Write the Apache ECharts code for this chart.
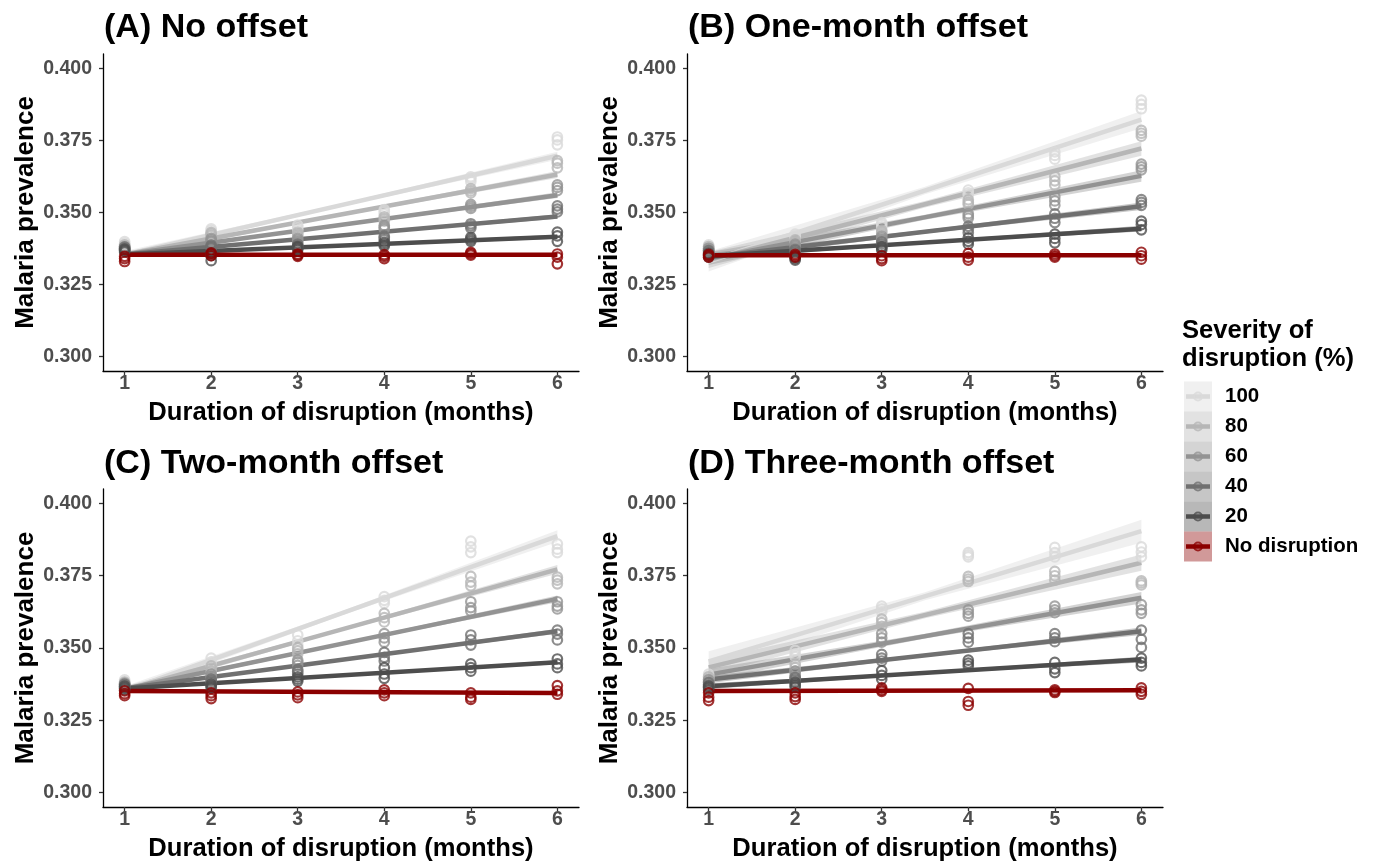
<!DOCTYPE html>
<html><head><meta charset="utf-8">
<script src="https://cdn.jsdelivr.net/npm/echarts@6/dist/echarts.min.js"></script>
<style>html,body{margin:0;padding:0;background:#fff}#chart{width:1374px;height:863px}</style>
</head><body><div id="chart"></div>
<script>
// ---------- data ----------
const durations = [1, 2, 3, 4, 5, 6];
const xTicks = [1, 2, 3, 4, 5, 6];
const yTicks = [0.300, 0.325, 0.350, 0.375, 0.400];
const severityLabels = ['100', '80', '60', '40', '20', 'No disruption'];
const severityColors = ['#d9d9d9', '#b6b6b6', '#939393', '#707070', '#4d4d4d', '#8b0000'];
const panelTitles = ['(A) No offset', '(B) One-month offset', '(C) Two-month offset', '(D) Three-month offset'];
const xAxisTitle = 'Duration of disruption (months)';
const yAxisTitle = 'Malaria prevalence';
const legendTitle = ['Severity of', 'disruption (%)'];
const bandX = [1, 3.5, 6];

// replicate values per severity (rows) and per duration (columns)
const pointsA = [
  [[0.3386,0.3393,0.3399],[0.3430,0.3437,0.3443],[0.3440,0.3448,0.3456],[0.3494,0.3503,0.3510],[0.3608,0.3618,0.3624],[0.3735,0.3752,0.3762]],
  [[0.3378,0.3383,0.3388],[0.3420,0.3425,0.3430],[0.3419,0.3426,0.3432],[0.3470,0.3478,0.3485],[0.3568,0.3575,0.3583],[0.3655,0.3671,0.3680]],
  [[0.3371,0.3376,0.3381],[0.3400,0.3405,0.3410],[0.3398,0.3404,0.3410],[0.3442,0.3449,0.3455],[0.3514,0.3521,0.3528],[0.3576,0.3587,0.3596]],
  [[0.3370,0.3375,0.3380],[0.3377,0.3382,0.3387],[0.3380,0.3385,0.3390],[0.3405,0.3412,0.3418],[0.3446,0.3454,0.3461],[0.3502,0.3512,0.3523]],
  [[0.3363,0.3368,0.3373],[0.3333,0.3350,0.3358],[0.3372,0.3377,0.3382],[0.3384,0.3390,0.3396],[0.3400,0.3407,0.3414],[0.3400,0.3419,0.3432]],
  [[0.3330,0.3340,0.3348],[0.3350,0.3356,0.3360],[0.3348,0.3352,0.3356],[0.3340,0.3348,0.3354],[0.3352,0.3357,0.3362],[0.3322,0.3345,0.3356]]
];
const pointsB = [
  [[0.3375,0.3382,0.3388],[0.3412,0.3418,0.3425],[0.3450,0.3458,0.3465],[0.3560,0.3568,0.3578],[0.3685,0.3698,0.3710],[0.3860,0.3875,0.3890]],
  [[0.3370,0.3376,0.3382],[0.3395,0.3400,0.3405],[0.3425,0.3432,0.3438],[0.3528,0.3535,0.3544],[0.3595,0.3610,0.3625],[0.3765,0.3775,0.3785]],
  [[0.3365,0.3370,0.3376],[0.3380,0.3386,0.3390],[0.3405,0.3412,0.3418],[0.3480,0.3488,0.3496],[0.3525,0.3540,0.3555],[0.3648,0.3658,0.3668]],
  [[0.3355,0.3362,0.3368],[0.3362,0.3368,0.3372],[0.3380,0.3390,0.3398],[0.3430,0.3442,0.3452],[0.3465,0.3480,0.3495],[0.3525,0.3535,0.3545]],
  [[0.3345,0.3352,0.3358],[0.3335,0.3340,0.3345],[0.3370,0.3376,0.3382],[0.3390,0.3400,0.3412],[0.3395,0.3410,0.3425],[0.3440,0.3458,0.3470]],
  [[0.3345,0.3350,0.3355],[0.3345,0.3350,0.3355],[0.3333,0.3340,0.3350],[0.3335,0.3345,0.3358],[0.3345,0.3350,0.3356],[0.3338,0.3350,0.3362]]
];
const pointsC = [
  [[0.3375,0.3382,0.3390],[0.3440,0.3452,0.3465],[0.3510,0.3525,0.3545],[0.3655,0.3665,0.3678],[0.3830,0.3850,0.3870],[0.3830,0.3842,0.3860]],
  [[0.3370,0.3376,0.3382],[0.3420,0.3430,0.3438],[0.3480,0.3490,0.3500],[0.3590,0.3605,0.3620],[0.3715,0.3728,0.3748],[0.3722,0.3735,0.3745]],
  [[0.3365,0.3372,0.3378],[0.3395,0.3402,0.3410],[0.3440,0.3450,0.3458],[0.3520,0.3535,0.3550],[0.3628,0.3640,0.3660],[0.3635,0.3645,0.3660]],
  [[0.3360,0.3367,0.3374],[0.3380,0.3386,0.3392],[0.3410,0.3418,0.3425],[0.3455,0.3468,0.3485],[0.3510,0.3528,0.3545],[0.3528,0.3548,0.3562]],
  [[0.3355,0.3362,0.3368],[0.3362,0.3368,0.3374],[0.3385,0.3392,0.3400],[0.3395,0.3410,0.3432],[0.3420,0.3432,0.3445],[0.3432,0.3445,0.3462]],
  [[0.3335,0.3342,0.3352],[0.3325,0.3335,0.3345],[0.3328,0.3338,0.3348],[0.3335,0.3345,0.3355],[0.3322,0.3330,0.3345],[0.3340,0.3352,0.3370]]
];
const pointsD = [
  [[0.3395,0.3403,0.3410],[0.3470,0.3480,0.3492],[0.3625,0.3635,0.3645],[0.3815,0.3822,0.3830],[0.3815,0.3830,0.3848],[0.3815,0.3832,0.3850]],
  [[0.3385,0.3392,0.3400],[0.3420,0.3432,0.3445],[0.3575,0.3588,0.3600],[0.3730,0.3738,0.3748],[0.3735,0.3750,0.3765],[0.3718,0.3725,0.3732]],
  [[0.3375,0.3382,0.3390],[0.3400,0.3410,0.3420],[0.3520,0.3535,0.3550],[0.3610,0.3620,0.3632],[0.3622,0.3632,0.3645],[0.3620,0.3632,0.3650]],
  [[0.3365,0.3372,0.3380],[0.3385,0.3392,0.3398],[0.3455,0.3465,0.3478],[0.3520,0.3535,0.3550],[0.3522,0.3535,0.3550],[0.3502,0.3530,0.3562]],
  [[0.3355,0.3362,0.3368],[0.3365,0.3372,0.3380],[0.3392,0.3405,0.3422],[0.3438,0.3448,0.3458],[0.3415,0.3428,0.3450],[0.3438,0.3450,0.3465]],
  [[0.3318,0.3330,0.3345],[0.3322,0.3332,0.3345],[0.3350,0.3355,0.3362],[0.3302,0.3315,0.3360],[0.3346,0.3350,0.3355],[0.3340,0.3350,0.3362]]
];

// fitted linear trend (value at duration 1 and at duration 6) per severity
const fitStartA = [0.3354, 0.3354, 0.3354, 0.3354, 0.3354, 0.3353];
const fitEndA   = [0.3697, 0.3632, 0.3560, 0.3486, 0.3416, 0.3353];
const fitStartB = [0.3330, 0.3335, 0.3340, 0.3345, 0.3348, 0.3352];
const fitEndB   = [0.3822, 0.3722, 0.3627, 0.3522, 0.3444, 0.3352];
const fitStartC = [0.3352, 0.3355, 0.3358, 0.3360, 0.3360, 0.3351];
const fitEndC   = [0.3887, 0.3772, 0.3670, 0.3558, 0.3451, 0.3344];
const fitStartD = [0.3454, 0.3433, 0.3408, 0.3391, 0.3368, 0.3351];
const fitEndD   = [0.3904, 0.3795, 0.3674, 0.3558, 0.3460, 0.3354];

// confidence band half-width at bandX positions per severity
const ciHalfA = [[0.0012,0.0005,0.0014],[0.0010,0.0004,0.0012],[0.0008,0.0004,0.0010],[0.0007,0.0003,0.0008],[0.0006,0.0003,0.0007],[0.0005,0.0002,0.0005]];
const ciHalfB = [[0.0035,0.0013,0.0030],[0.0028,0.0011,0.0025],[0.0022,0.0009,0.0020],[0.0014,0.0006,0.0013],[0.0010,0.0004,0.0010],[0.0006,0.0003,0.0006]];
const ciHalfC = [[0.0016,0.0007,0.0020],[0.0013,0.0005,0.0015],[0.0010,0.0004,0.0012],[0.0008,0.0003,0.0009],[0.0006,0.0003,0.0007],[0.0005,0.0002,0.0005]];
const ciHalfD = [[0.0035,0.0014,0.0040],[0.0026,0.0011,0.0028],[0.0020,0.0008,0.0020],[0.0013,0.0005,0.0013],[0.0010,0.0004,0.0010],[0.0006,0.0003,0.0006]];

// ---------- build ----------
const FONT = '"Liberation Sans", Arial, Helvetica, sans-serif';
const panels = [
  {points: pointsA, s: fitStartA, e: fitEndA, ci: ciHalfA},
  {points: pointsB, s: fitStartB, e: fitEndB, ci: ciHalfB},
  {points: pointsC, s: fitStartC, e: fitEndC, ci: ciHalfC},
  {points: pointsD, s: fitStartD, e: fitEndD, ci: ciHalfD}
];
const gridPos = [
  {left: 103, top: 54, width: 476, height: 317},
  {left: 687, top: 54, width: 476, height: 317},
  {left: 103, top: 489, width: 476, height: 318},
  {left: 687, top: 489, width: 476, height: 318}
];
function rgba(hex, a) {
  const n = parseInt(hex.slice(1), 16);
  return 'rgba(' + ((n >> 16) & 255) + ',' + ((n >> 8) & 255) + ',' + (n & 255) + ',' + a + ')';
}
const grids = [], xAxes = [], yAxes = [], series = [];
panels.forEach((pn, p) => {
  grids.push(Object.assign({containLabel: false}, gridPos[p]));
  xAxes.push({
    gridIndex: p, type: 'value', min: 0.75, max: 6.25,
    name: xAxisTitle, nameLocation: 'middle', nameGap: 29,
    nameTextStyle: {fontFamily: FONT, fontWeight: 'bold', fontSize: 25.6, color: '#000'},
    axisLine: {show: true, onZero: false, lineStyle: {color: '#000', width: 1.3}},
    axisTick: {show: true, customValues: xTicks, length: 4, lineStyle: {color: '#333', width: 1.3}},
    axisLabel: {customValues: xTicks, margin: 3, color: '#4d4d4d', fontWeight: 'bold', fontSize: 19.5, fontFamily: FONT},
    splitLine: {show: false}
  });
  yAxes.push({
    gridIndex: p, type: 'value', min: 0.295, max: 0.405,
    name: yAxisTitle, nameLocation: 'middle', nameGap: 60,
    nameTextStyle: {fontFamily: FONT, fontWeight: 'bold', fontSize: 26, color: '#000'},
    axisLine: {show: true, onZero: false, lineStyle: {color: '#000', width: 1.3}},
    axisTick: {show: true, customValues: yTicks, length: 4, lineStyle: {color: '#333', width: 1.3}},
    axisLabel: {customValues: yTicks, margin: 11, formatter: v => v.toFixed(3), color: '#4d4d4d', fontWeight: 'bold', fontSize: 19.5, fontFamily: FONT},
    splitLine: {show: false}
  });
  // bands
  severityLabels.forEach((lab, g) => {
    const col = severityColors[g];
    const mid = (pn.s[g] + pn.e[g]) / 2;
    const centre = [pn.s[g], mid, pn.e[g]];
    const data = bandX.map((x, i) => [x, centre[i] - pn.ci[g][i], centre[i] + pn.ci[g][i]]);
    series.push({
      type: 'custom', xAxisIndex: p, yAxisIndex: p, silent: true, z: 2,
      data: data, encode: {x: 0, y: [1, 2]},
      renderItem: function (params, api) {
        if (params.dataIndex !== 0) return null;
        const top = data.map(d => api.coord([d[0], d[2]]));
        const bot = data.map(d => api.coord([d[0], d[1]])).reverse();
        return {type: 'polygon', shape: {points: top.concat(bot)}, style: {fill: rgba(col, 0.4)}};
      }
    });
  });
  // fitted lines
  severityLabels.forEach((lab, g) => {
    series.push({
      type: 'line', xAxisIndex: p, yAxisIndex: p, silent: true, z: 3,
      data: [[durations[0], pn.s[g]], [durations[durations.length - 1], pn.e[g]]],
      symbol: 'none', lineStyle: {color: severityColors[g], width: 4.5}
    });
  });
  // points
  severityLabels.forEach((lab, g) => {
    const d = [];
    durations.forEach((x, i) => pn.points[g][i].forEach(v => d.push([x, v])));
    series.push({
      type: 'scatter', xAxisIndex: p, yAxisIndex: p, silent: true, z: 4,
      data: d, symbol: 'circle', symbolSize: 9.5,
      itemStyle: {color: 'rgba(0,0,0,0)', borderColor: severityColors[g], borderWidth: 2.2, opacity: 0.8}
    });
  });
});

// titles and legend (graphic)
const graphics = [];
const titlePos = [[104, 28], [688, 28], [104, 464], [688, 464]];
panelTitles.forEach((t, i) => {
  graphics.push({type: 'text', x: titlePos[i][0], y: titlePos[i][1],
    style: {text: t, font: 'bold 34px ' + FONT, fill: '#000', verticalAlign: 'middle', align: 'left'}});
});
legendTitle.forEach((t, i) => {
  graphics.push({type: 'text', x: 1182, y: 331 + i * 28,
    style: {text: t, font: 'bold 25.6px ' + FONT, fill: '#000', verticalAlign: 'middle', align: 'left'}});
});
severityLabels.forEach((lab, g) => {
  const top = 381.5 + g * 30, cy = top + 15, col = severityColors[g];
  graphics.push({type: 'rect', shape: {x: 1184, y: top, width: 28, height: 30}, style: {fill: rgba(col, 0.4)}});
  graphics.push({type: 'line', shape: {x1: 1186, y1: cy, x2: 1210, y2: cy}, style: {stroke: col, lineWidth: 4.5}});
  graphics.push({type: 'circle', shape: {cx: 1198, cy: cy, r: 4}, style: {fill: 'none', stroke: col, lineWidth: 2, opacity: 0.8}});
  graphics.push({type: 'text', x: 1225, y: cy,
    style: {text: lab, font: 'bold 20.5px ' + FONT, fill: '#000', verticalAlign: 'middle', align: 'left'}});
});

const chart = echarts.init(document.getElementById('chart'), null, {renderer: 'canvas'});
chart.setOption({
  animation: false,
  backgroundColor: '#fff',
  grid: grids, xAxis: xAxes, yAxis: yAxes, series: series,
  graphic: graphics
});
</script></body></html>
